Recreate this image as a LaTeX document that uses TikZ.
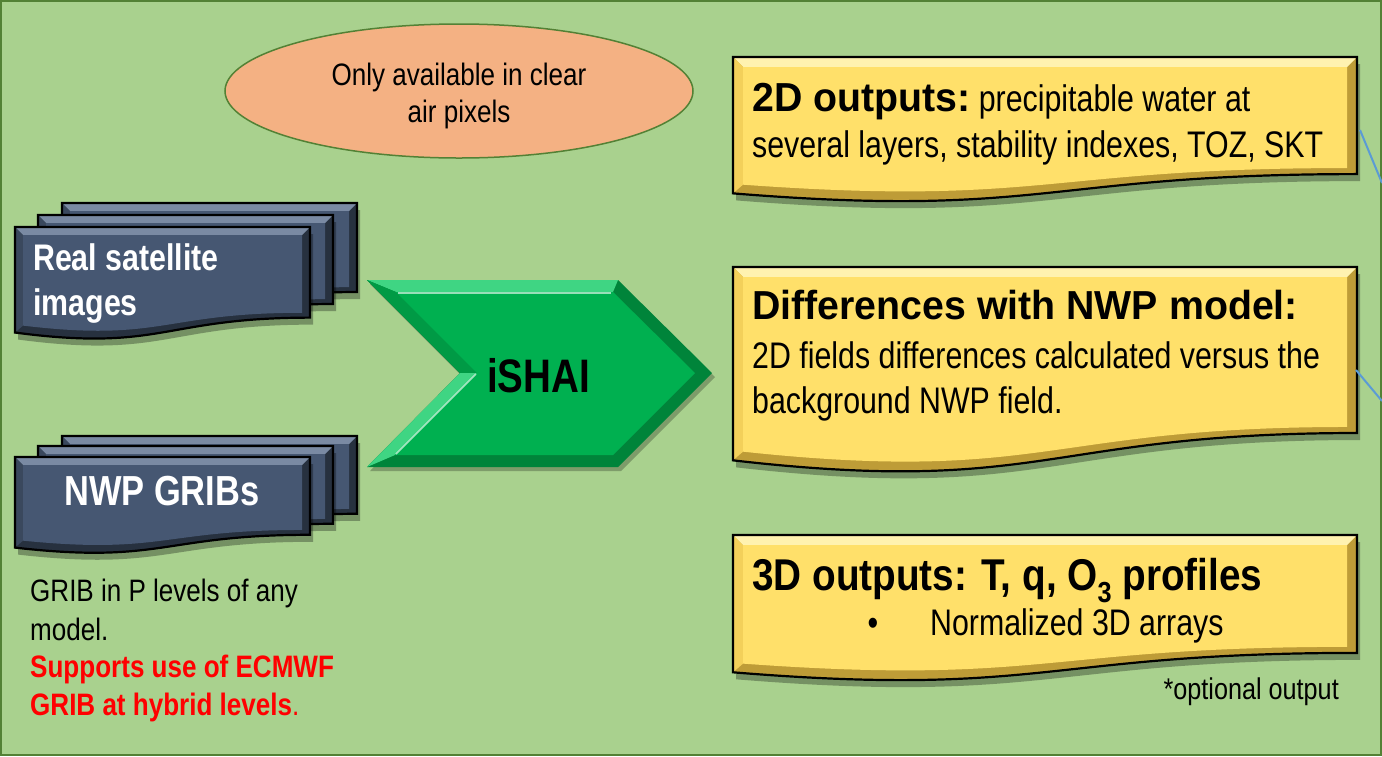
\documentclass[tikz,border=0pt]{standalone}
\usepackage{fontspec}
\setmainfont{Liberation Sans}[FakeStretch=0.82]
\newfontfamily\fsmall{Liberation Sans}[FakeStretch=0.84]
\newfontfamily\fwide{Liberation Sans}[FakeStretch=0.97]
\newfontfamily\fmed{Liberation Sans}[FakeStretch=0.87]
\usetikzlibrary{shapes.geometric}
\definecolor{bg}{HTML}{A9D18E}
\definecolor{bgline}{HTML}{538135}
\definecolor{ovalfill}{HTML}{F4B183}
\definecolor{ymain}{HTML}{FFE06A}
\definecolor{ylight}{HTML}{FFF2B0}
\definecolor{yleft}{HTML}{F3D05A}
\definecolor{ydark}{HTML}{BE9C37}
\definecolor{dmain}{HTML}{465772}
\definecolor{dlight}{HTML}{7A8AA3}
\definecolor{dleft}{HTML}{3A485D}
\definecolor{ddark}{HTML}{27313F}
\definecolor{gmain}{HTML}{00B050}
\definecolor{gdark}{HTML}{00843A}
\definecolor{glight}{HTML}{3FD583}
\definecolor{gleft}{HTML}{009A45}
\definecolor{linkblue}{HTML}{5B9BD5}
\definecolor{notered}{HTML}{FF0000}
% document shape: x y w h bevel colourprefix
\newcommand\docshape[6]{%
 \fill[black,opacity=0.3] ({#1+3},{#2+7}) -- ({#1+#3+3},{#2+7}) -- ({#1+#3+3},{#2+0.802*#4+7}) .. controls ({#1+0.5*#3+3},{#2+0.802*#4+7}) and ({#1+0.5*#3+3},{#2+1.107*#4+7}) .. ({#1+3},{#2+0.934*#4+7}) -- cycle;
 \fill[#6dark] (#1,#2) -- ({#1+#3},#2) -- ({#1+#3},{#2+0.802*#4}) .. controls ({#1+0.5*#3},{#2+0.802*#4}) and ({#1+0.5*#3},{#2+1.107*#4}) .. (#1,{#2+0.934*#4}) -- cycle;
 \fill[#6light] (#1,#2) -- ({#1+#3},#2) -- ({#1+#3-#5},{#2+#5}) -- ({#1+#5},{#2+#5}) -- cycle;
 \fill[#6left] (#1,#2) -- ({#1+#5},{#2+#5}) -- ({#1+#5},{#2+#5+0.934*(#4-2*#5)}) -- (#1,{#2+0.934*#4}) -- cycle;
 \fill[#6main] ({#1+#5},{#2+#5}) -- ({#1+#3-#5},{#2+#5}) -- ({#1+#3-#5},{#2+#5+0.802*(#4-2*#5)}) .. controls ({#1+0.5*#3},{#2+#5+0.802*(#4-2*#5)}) and ({#1+0.5*#3},{#2+#5+1.107*(#4-2*#5)}) .. ({#1+#5},{#2+#5+0.934*(#4-2*#5)}) -- cycle;
 \draw[line width=2.2pt,black] (#1,#2) -- ({#1+#3},#2) -- ({#1+#3},{#2+0.802*#4}) .. controls ({#1+0.5*#3},{#2+0.802*#4}) and ({#1+0.5*#3},{#2+1.107*#4}) .. (#1,{#2+0.934*#4}) -- cycle;
}
\tikzset{
  txt/.style={inner sep=0pt, anchor=base west},
  body/.style={txt, font=\fontsize{37}{44}\selectfont},
  head/.style={txt, font=\fwide\bfseries\fontsize{40.5}{48}\selectfont},
  note/.style={txt, font=\fsmall\fontsize{31}{37}\selectfont},
  doctxt/.style={txt, text=white, font=\bfseries\fontsize{37}{44}\selectfont},
  link/.style={linkblue, line width=2pt}
}
\begin{document}
\begin{tikzpicture}[x=1pt,y=-1pt]
\useasboundingbox (0,0) rectangle (1382,756);
\fill[bg] (0,0) rectangle (1382,756);
\draw[bgline, line width=2pt] (1,1) rectangle (1381,755);

% oval
\node[ellipse, draw=bgline, line width=1.5pt, fill=ovalfill, minimum width=468pt, minimum height=134pt, inner sep=0pt] (oval) at (459,91) {};
\node[note, anchor=base] (ov1) at (459,85) {Only available in clear};
\node[note, anchor=base] (ov2) at (459,122.5) {air pixels};

% left stacks
\docshape{62}{203}{295}{111}{8}{d}
\docshape{38}{215}{295}{111}{8}{d}
\docshape{15}{227}{295}{113}{8}{d}
\node[doctxt] (sat1) at (33,270) {Real satellite};
\node[doctxt] (sat2) at (33,315) {images};

\docshape{62}{436}{295}{97}{8}{d}
\docshape{38}{446}{295}{97}{8}{d}
\docshape{15}{457}{295}{97}{8}{d}
\node[doctxt, font=\bfseries\fontsize{42}{50}\selectfont] (grib) at (64,505) {NWP GRIBs};

\node[note] (g1) at (30,601) {GRIB in P levels of any};
\node[note] (g2) at (30,640) {model.};
\node[note, text=notered] (g3) at (30,677) {\bfseries Supports use of ECMWF};
\node[note, text=notered] (g4) at (30,715) {{\bfseries GRIB at hybrid levels}.};

% chevron
\fill[black,opacity=0.25] (370,284) -- (621,284) -- (715,377) -- (621,471) -- (370,471) -- (463,377) -- cycle;
\fill[gdark] (367,280) -- (618,280) -- (712,373) -- (618,467) -- (367,467) -- (460,373) -- cycle;
\fill[glight] (367,280) -- (618,280) -- (613,292) -- (396,292) -- cycle;
\fill[gleft] (367,280) -- (396,292) -- (477,373) -- (460,373) -- cycle;
\fill[glight] (460,373) -- (477,373) -- (395,455) -- (367,467) -- cycle;
\fill[gmain] (396,292) -- (613,292) -- (695,373) -- (613,455) -- (395,455) -- (477,373) -- cycle;
\draw[white, opacity=0.6, line width=1.5pt] (398,293) -- (611,293);
\draw[white, opacity=0.6, line width=1.5pt] (476,374) -- (396,454);
\node[txt, anchor=base, font=\bfseries\fontsize{47}{56}\selectfont] (ishai) at (538.5,392) {iSHAI};

% right boxes
\docshape{733}{57}{624}{146}{10}{y}
\node[body] (o2d1) at (752,111) {{\fwide\bfseries\fontsize{40.5}{48}\selectfont 2D outputs:}\ precipitable water at};
\node[body] (o2d2) at (752,157) {several layers, stability indexes, TOZ, SKT};

\docshape{733}{267}{624}{207}{10}{y}
\node[head] (dif1) at (752,319) {Differences with NWP model:};
\node[body] (dif2) at (752,368) {2D fields differences calculated versus the};
\node[body] (dif3) at (752,413) {background NWP field.};

\docshape{733}{535}{624}{147}{10}{y}
\node[txt, font=\fmed\bfseries\fontsize{44.5}{52}\selectfont] (o3d1) at (752,590) {3D outputs: T, q, O\raisebox{-0.28em}{\fontsize{29}{30}\selectfont 3} profiles};
\node[body, anchor=base] (bul) at (873,635) {•};
\node[body] (o3d2) at (930,635) {Normalized 3D arrays};
\node[note, anchor=base east, font=\fsmall\fontsize{30}{36}\selectfont] (opt) at (1339,699) {*optional output};

% links leaving the picture
\coordinate (l1a) at (1360,130);
\coordinate (l1b) at (1382,183);
\coordinate (l2a) at (1356,370);
\coordinate (l2b) at (1382,401);
\draw[link] (l1a) -- (l1b);
\draw[link] (l2a) -- (l2b);
\end{tikzpicture}
\end{document}
